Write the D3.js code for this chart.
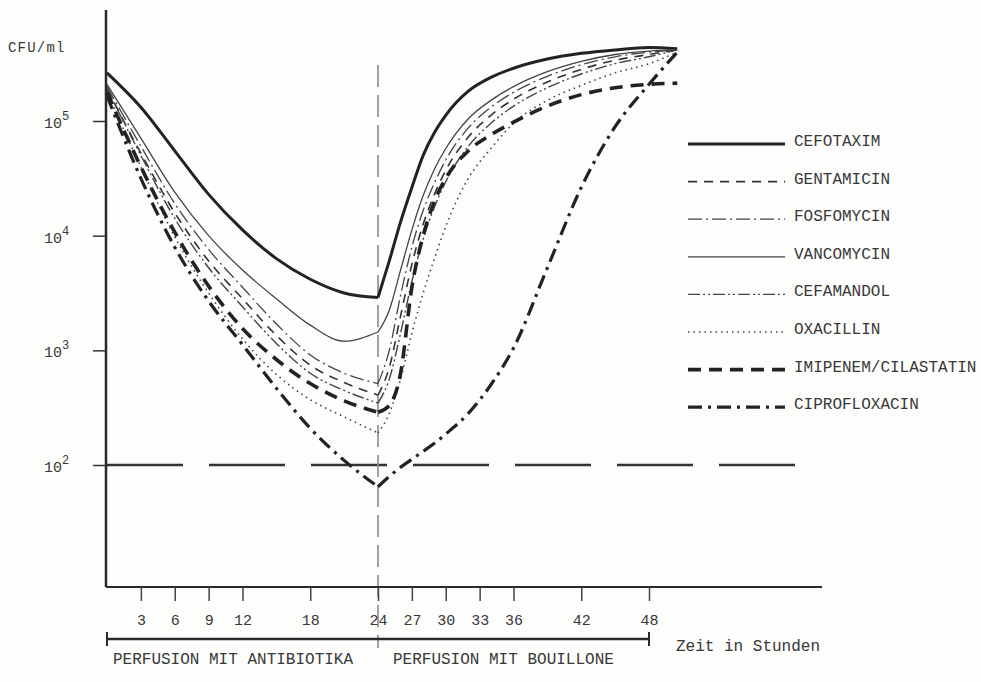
<!DOCTYPE html>
<html>
<head>
<meta charset="utf-8">
<script src="https://cdn.jsdelivr.net/npm/d3@7"></script>
<style>
  html, body { margin: 0; padding: 0; background: #fdfdfc; }
  svg { display: block; }
  text { font-family: "Liberation Mono", "DejaVu Sans Mono", monospace; fill: #383838; }
</style>
</head>
<body>
<svg id="chart" width="981" height="682"></svg>
<script>
// sampling hours: antibiotic perfusion (0-24 h), then broth perfusion (24-50.5 h)
const hoursBefore = [0, 3, 6, 9, 12, 15, 18, 21, 24];
const hoursAfter = [24, 25, 26, 27, 28, 29, 30, 32, 34, 36, 39, 42, 45, 48, 50.5];

// log10 CFU/ml
const cefotaximBefore   = [5.42, 5.12, 4.74, 4.36, 4.05, 3.80, 3.62, 3.50, 3.46];
const gentamicinBefore  = [5.28, 4.72, 4.20, 3.78, 3.45, 3.13, 2.87, 2.72, 2.61];
const fosfomycinBefore  = [5.30, 4.78, 4.28, 3.88, 3.55, 3.23, 2.96, 2.80, 2.71];
const vancomycinBefore  = [5.32, 4.85, 4.38, 4.00, 3.70, 3.45, 3.22, 3.08, 3.16];
const cefamandolBefore  = [5.28, 4.70, 4.15, 3.72, 3.38, 3.06, 2.80, 2.65, 2.54];
const oxacillinBefore   = [5.25, 4.60, 3.99, 3.50, 3.10, 2.79, 2.57, 2.42, 2.28];
const imipenemBefore    = [5.25, 4.60, 4.03, 3.56, 3.19, 2.92, 2.71, 2.56, 2.46];
const ciprofloxBefore   = [5.22, 4.50, 3.90, 3.43, 3.05, 2.67, 2.32, 2.04, 1.81];

const cefotaximAfter    = [3.46, 3.78, 4.12, 4.42, 4.70, 4.90, 5.05, 5.26, 5.38, 5.46, 5.54, 5.59, 5.62, 5.64, 5.63];
const gentamicinAfter   = [2.61, 2.85, 3.30, 3.75, 4.10, 4.36, 4.57, 4.86, 5.05, 5.19, 5.34, 5.45, 5.53, 5.58, 5.62];
const fosfomycinAfter   = [2.71, 3.00, 3.48, 3.90, 4.22, 4.46, 4.66, 4.94, 5.12, 5.25, 5.39, 5.49, 5.56, 5.60, 5.62];
const vancomycinAfter   = [3.16, 3.35, 3.70, 4.05, 4.35, 4.58, 4.76, 5.02, 5.18, 5.30, 5.43, 5.52, 5.58, 5.61, 5.62];
const cefamandolAfter   = [2.54, 2.75, 3.15, 3.60, 3.97, 4.25, 4.47, 4.78, 4.98, 5.13, 5.29, 5.41, 5.50, 5.56, 5.62];
const oxacillinAfter    = [2.28, 2.45, 2.75, 3.15, 3.50, 3.80, 4.08, 4.50, 4.76, 4.98, 5.18, 5.31, 5.42, 5.50, 5.60];
const imipenemAfter     = [2.46, 2.52, 2.80, 3.55, 4.00, 4.30, 4.50, 4.74, 4.88, 4.99, 5.13, 5.23, 5.29, 5.32, 5.33];
const ciprofloxAfter    = [1.81, 1.90, 1.98, 2.05, 2.12, 2.19, 2.27, 2.45, 2.70, 3.02, 3.72, 4.42, 4.95, 5.32, 5.60];

const antibiotics = ['CEFOTAXIM', 'GENTAMICIN', 'FOSFOMYCIN', 'VANCOMYCIN', 'CEFAMANDOL',
                     'OXACILLIN', 'IMIPENEM/CILASTATIN', 'CIPROFLOXACIN'];
const beforeValues = [cefotaximBefore, gentamicinBefore, fosfomycinBefore, vancomycinBefore,
                      cefamandolBefore, oxacillinBefore, imipenemBefore, ciprofloxBefore];
const afterValues = [cefotaximAfter, gentamicinAfter, fosfomycinAfter, vancomycinAfter,
                     cefamandolAfter, oxacillinAfter, imipenemAfter, ciprofloxAfter];

const xTicks = [3, 6, 9, 12, 18, 24, 27, 30, 33, 36, 42, 48];
const yTicks = [1e2, 1e3, 1e4, 1e5];
const threshold = 100;          // CFU/ml detection line
const thresholdEnd = 61.4;      // hours, where the long-dash line stops
const phaseLabels = ['PERFUSION MIT ANTIBIOTIKA', 'PERFUSION MIT BOUILLONE'];

// line styles, same order as antibiotics
const styles = [
  { width: 3.0, dash: null,              color: '#222' },
  { width: 1.6, dash: '9,7',             color: '#333' },
  { width: 1.3, dash: '14,4,2,4',        color: '#444' },
  { width: 1.3, dash: null,              color: '#444' },
  { width: 1.4, dash: '12,3,2,3,2,3',    color: '#444' },
  { width: 1.6, dash: '1.5,4',           color: '#444' },
  { width: 3.6, dash: '13,8',            color: '#222' },
  { width: 3.2, dash: '14,6,3,6',        color: '#222' }
];

const svg = d3.select('#chart');

const x = d3.scaleLinear().domain([0, 48]).range([107, 649]);
const y = d3.scaleLog().domain([1e2, 1e5]).range([465, 121]);
const axisY = 587;

const series = antibiotics.map((name, i) => ({
  name,
  before: hoursBefore.map((h, j) => [h, Math.pow(10, beforeValues[i][j])]),
  after: hoursAfter.map((h, j) => [h, Math.pow(10, afterValues[i][j])])
}));

const line = d3.line()
  .x(d => x(d[0]))
  .y(d => y(d[1]))
  .curve(d3.curveMonotoneX);

// 10^2 long-dash line
svg.append('line')
  .attr('x1', x(0)).attr('x2', x(thresholdEnd))
  .attr('y1', y(threshold)).attr('y2', y(threshold))
  .attr('stroke', '#333').attr('stroke-width', 2.5)
  .attr('stroke-dasharray', '76,26');

// 24 h separator
svg.append('line')
  .attr('x1', x(24)).attr('x2', x(24))
  .attr('y1', 65).attr('y2', 648)
  .attr('stroke', '#8a8a8a').attr('stroke-width', 1.6)
  .attr('stroke-dasharray', '22,8');

// curves, drawn as two pieces so the turn at 24 h stays sharp
const g = svg.append('g');
series.forEach((s, i) => {
  const st = styles[i];
  [s.before, s.after].forEach(pts => {
    g.append('path')
      .attr('d', line(pts))
      .attr('fill', 'none')
      .attr('stroke', st.color)
      .attr('stroke-width', st.width)
      .attr('stroke-dasharray', st.dash)
      .attr('stroke-linejoin', 'round');
  });
});

// y axis
svg.append('line')
  .attr('x1', 106).attr('x2', 106)
  .attr('y1', 10).attr('y2', axisY)
  .attr('stroke', '#2a2a2a').attr('stroke-width', 2.5);

const yAxis = svg.append('g')
  .attr('transform', 'translate(106,0)')
  .call(d3.axisLeft(y).tickValues(yTicks).tickSize(13).tickFormat(''));
yAxis.select('.domain').remove();
yAxis.selectAll('.tick line').attr('stroke', '#333').attr('stroke-width', 1.5);

const yLab = svg.append('g').selectAll('text')
  .data(yTicks)
  .join('text')
  .attr('x', 44)
  .attr('y', d => y(d) + 7)
  .style('font-size', '15px');
yLab.append('tspan').text('10');
yLab.append('tspan')
  .attr('dy', -8)
  .style('font-size', '12px')
  .text(d => Math.round(Math.log10(d)));

svg.append('text')
  .attr('x', 8).attr('y', 52)
  .style('font-size', '14px')
  .style('letter-spacing', '1.2px')
  .attr('fill', '#555')
  .text('CFU/ml');

// x axis
svg.append('line')
  .attr('x1', 106).attr('x2', 822)
  .attr('y1', axisY).attr('y2', axisY)
  .attr('stroke', '#2a2a2a').attr('stroke-width', 2.2);

const xAxis = svg.append('g')
  .attr('transform', `translate(0,${axisY})`)
  .call(d3.axisBottom(x).tickValues(xTicks).tickSize(14));
xAxis.select('.domain').remove();
xAxis.selectAll('.tick line').attr('stroke', '#444').attr('stroke-width', 1.5);
xAxis.selectAll('.tick text')
  .attr('y', 38).attr('dy', null)
  .style('font-family', '"Liberation Mono", monospace')
  .style('font-size', '15px')
  .attr('fill', '#383838');

// phase bracket
const bracketY = 639;
svg.append('line')
  .attr('x1', x(0)).attr('x2', x(48))
  .attr('y1', bracketY).attr('y2', bracketY)
  .attr('stroke', '#2a2a2a').attr('stroke-width', 2.5);
[0, 48].forEach(h => {
  svg.append('line')
    .attr('x1', x(h)).attr('x2', x(h))
    .attr('y1', bracketY - 7).attr('y2', bracketY + 7)
    .attr('stroke', '#2a2a2a').attr('stroke-width', 2);
});

svg.append('text')
  .attr('x', x(0) + 6).attr('y', 664)
  .style('font-size', '16px')
  .text(phaseLabels[0]);
svg.append('text')
  .attr('x', x(24) + 15).attr('y', 664)
  .style('font-size', '16px')
  .text(phaseLabels[1]);
svg.append('text')
  .attr('x', 676).attr('y', 651)
  .style('font-size', '16px')
  .text('Zeit in Stunden');

// legend
const legend = svg.append('g').attr('transform', 'translate(688,144)');
antibiotics.forEach((name, i) => {
  const st = styles[i];
  const ly = i * 37.6;
  legend.append('line')
    .attr('x1', 0).attr('x2', 97)
    .attr('y1', ly).attr('y2', ly)
    .attr('stroke', st.color)
    .attr('stroke-width', st.width)
    .attr('stroke-dasharray', st.dash);
  legend.append('text')
    .attr('x', 106).attr('y', ly + 2)
    .style('font-size', '16px')
    .attr('fill', '#444')
    .text(name);
});
</script>
</body>
</html>
